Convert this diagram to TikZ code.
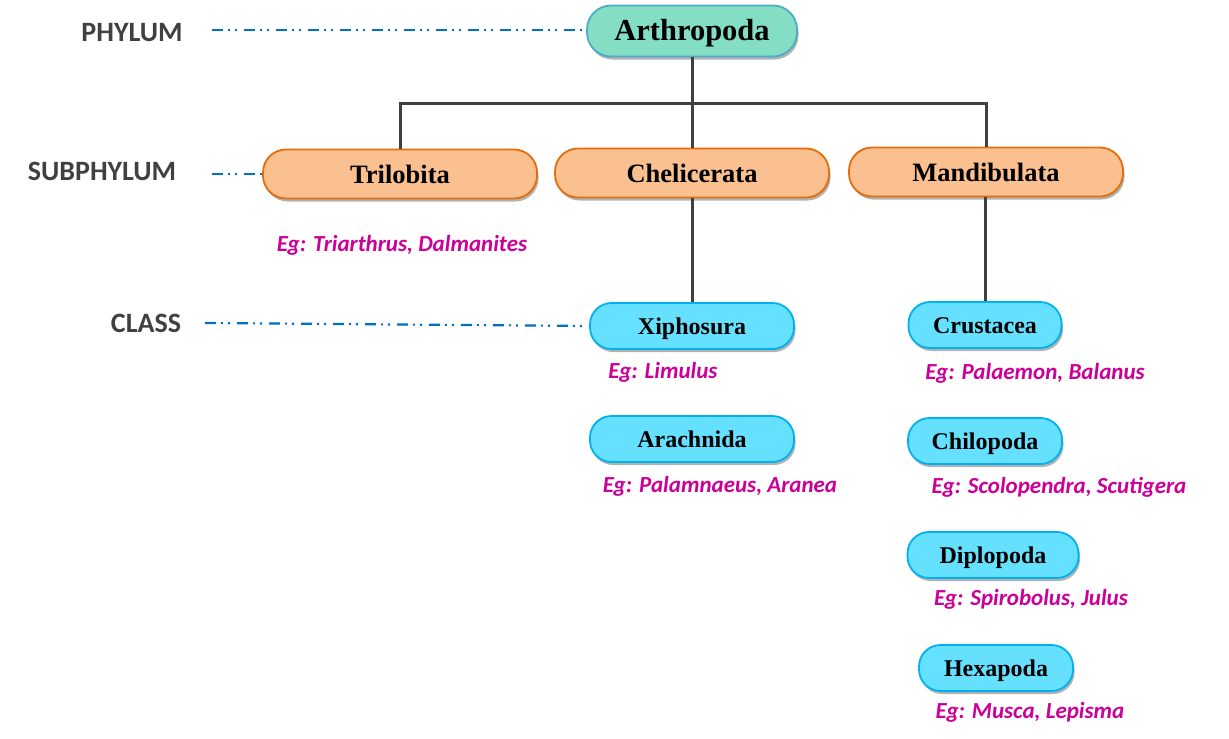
\documentclass[tikz,border=0pt]{standalone}
\usepackage{fontspec}
\setmainfont{Liberation Serif}
\newfontfamily\lblfont{Carlito}
\usetikzlibrary{shadows}
\definecolor{mintfill}{HTML}{84DEC4}
\definecolor{mintline}{HTML}{4BACC6}
\definecolor{orfill}{HTML}{FAC090}
\definecolor{orline}{HTML}{E46C0A}
\definecolor{cyfill}{HTML}{66E0FF}
\definecolor{cyline}{HTML}{00B0F0}
\definecolor{egcol}{HTML}{CC0099}
\definecolor{lblcol}{HTML}{404040}
\definecolor{conncol}{HTML}{404040}
\definecolor{ddcol}{HTML}{0070C0}
\tikzset{
  box/.style={rectangle, draw, line width=1.8pt, inner sep=0pt, align=center},
  shad/.style={drop shadow={shadow xshift=1.5pt, shadow yshift=-3pt, opacity=0.3, fill=black, rounded corners=#1}},
  phybox/.style={box, fill=mintfill, draw=mintline, minimum width=210pt, minimum height=51pt,
    rounded corners=24pt, shad=24pt, text height=23pt, text depth=4pt,
    font=\bfseries\fontsize{30.5}{34}\selectfont},
  subbox/.style={box, fill=orfill, draw=orline, minimum width=274pt, minimum height=49pt,
    rounded corners=23pt, shad=23pt, text height=21pt, text depth=3pt,
    font=\bfseries\fontsize{26.5}{30}\selectfont},
  clsbox/.style={box, fill=cyfill, draw=cyline, minimum height=46pt,
    rounded corners=21.5pt, shad=21.5pt, text height=19pt, text depth=3pt,
    font=\bfseries\fontsize{24}{28}\selectfont},
  lbl/.style={text=lblcol, font=\lblfont\bfseries\fontsize{28}{32}\selectfont, inner sep=0pt},
  eg/.style={text=egcol, font=\lblfont\bfseries\itshape\fontsize{23}{27}\selectfont, inner sep=0pt},
  conn/.style={draw=conncol, line width=3pt},
  dd/.style={draw=ddcol, line width=2.2pt, dash pattern=on 11pt off 5pt on 2pt off 5pt on 2pt off 7pt}
}
\begin{document}
\begin{tikzpicture}[x=1pt,y=-1pt]
\useasboundingbox (0,0) rectangle (1229,739);
% level labels
\node[lbl] (lphy) at (132,33) {PHYLUM};
\node[lbl] (lsub) at (102,171) {SUBPHYLUM};
\node[lbl] (lcls) at (146,323) {CLASS};
% nodes
\node[phybox] (arth) at (692,31) {Arthropoda};
\node[subbox] (tri) at (400,174) {Trilobita};
\node[subbox] (che) at (692,173) {Chelicerata};
\node[subbox] (man) at (986,172) {Mandibulata};
\node[clsbox, minimum width=204pt] (xip) at (692,326) {Xiphosura};
\node[clsbox, minimum width=204pt] (ara) at (692,439) {Arachnida};
\node[clsbox, minimum width=153pt] (cru) at (985,325) {Crustacea};
\node[clsbox, minimum width=154pt] (chi) at (985,441) {Chilopoda};
\node[clsbox, minimum width=171pt] (dip) at (993,555) {Diplopoda};
\node[clsbox, minimum width=154pt] (hex) at (996,668) {Hexapoda};
% examples
\node[eg] (etri) at (402,245) {Eg: Triarthrus, Dalmanites};
\node[eg] (exip) at (663,372) {Eg: Limulus};
\node[eg] (eara) at (720,486) {Eg: Palamnaeus, Aranea};
\node[eg] (ecru) at (1035,373) {Eg: Palaemon, Balanus};
\node[eg] (echi) at (1059,487) {Eg: Scolopendra, Scutigera};
\node[eg] (edip) at (1031,599) {Eg: Spirobolus, Julus};
\node[eg] (ehex) at (1030,712) {Eg: Musca, Lepisma};
% connectors
\coordinate (j) at (692,103);
\draw[conn] (arth.south) -- (j);
\draw[conn] (tri.north) |- (j) -| (man.north);
\draw[conn] (j) -- (che.north);
\draw[conn] (che.south) -- (xip.north);
\draw[conn] (man.south -| cru.north) -- (cru.north);
% dash-dot guides
\coordinate (dphy) at (212,30);
\coordinate (dsub) at (212,174);
\coordinate (dcls) at (205,323);
\draw[dd, shorten >=4pt] (dphy) -- (arth.west |- dphy);
\draw[dd] (dsub) -- (tri.west);
\draw[dd] (dcls) -- (xip.west);
\end{tikzpicture}
\end{document}
